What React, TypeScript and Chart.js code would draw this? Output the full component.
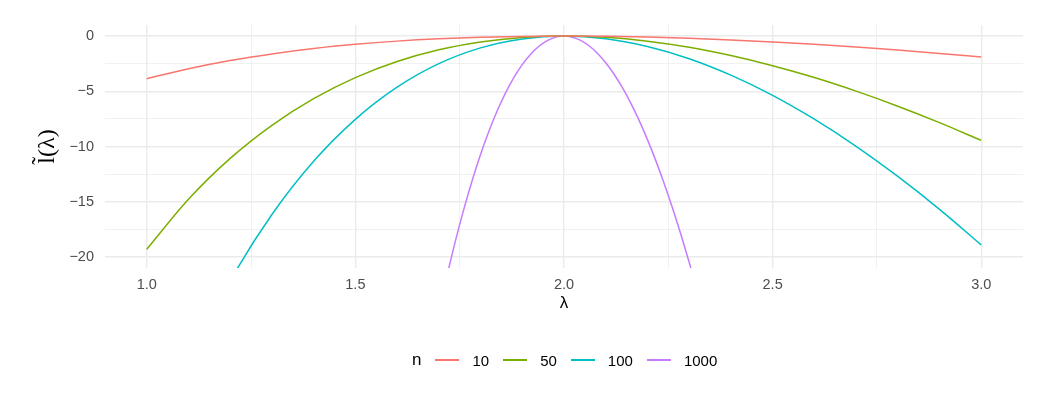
import React, { useEffect, useRef } from "react";
import { Chart, registerables } from "chart.js";
Chart.register(...registerables);

// λ grid for the three smaller n
const lambdaCoarse = [1.0, 1.1, 1.2, 1.3, 1.4, 1.5, 1.6, 1.7, 1.8, 1.9, 2.0, 2.1, 2.2, 2.3, 2.4, 2.5, 2.6, 2.7, 2.8, 2.9, 3.0];
const n10 = [-3.86, -2.96, -2.22, -1.62, -1.13, -0.75, -0.46, -0.25, -0.11, -0.03, 0, -0.02, -0.09, -0.2, -0.35, -0.54, -0.75, -1.0, -1.27, -1.57, -1.89];
const n50 = [-19.31, -14.78, -11.08, -8.08, -5.67, -3.77, -2.31, -1.25, -0.54, -0.13, 0, -0.12, -0.47, -1.02, -1.77, -2.69, -3.76, -4.99, -6.35, -7.84, -9.45];
const n100 = [-38.63, -29.57, -22.17, -16.16, -11.34, -7.54, -4.63, -2.5, -1.07, -0.26, 0, -0.24, -0.94, -2.05, -3.54, -5.37, -7.53, -9.98, -12.71, -15.69, -18.91];

// finer λ grid for n = 1000
const lambdaFine = [1.7, 1.72, 1.74, 1.76, 1.78, 1.8, 1.82, 1.84, 1.86, 1.88, 1.9, 1.92, 1.94, 1.96, 1.98, 2.0, 2.02, 2.04, 2.06, 2.08, 2.1, 2.12, 2.14, 2.16, 2.18, 2.2, 2.22, 2.24, 2.26, 2.28, 2.3, 2.32];
const n1000 = [-25.04, -21.65, -18.52, -15.67, -13.07, -10.72, -8.62, -6.76, -5.14, -3.75, -2.59, -1.64, -0.92, -0.41, -0.1, 0, -0.1, -0.39, -0.88, -1.56, -2.42, -3.46, -4.68, -6.08, -7.64, -9.38, -11.28, -13.34, -15.56, -17.94, -20.48, -23.16];

const seriesNames = ["10", "50", "100", "1000"];
const seriesColors = ["#F8766D", "#7CAE00", "#00BFC4", "#C77CFF"];

const xMajorTicks = [1.0, 1.5, 2.0, 2.5, 3.0];
const xMinorTicks = [1.25, 1.75, 2.25, 2.75];
const yMajorTicks = [-20, -15, -10, -5, 0];
const yMinorTicks = [-17.5, -12.5, -7.5, -2.5];

const toPoints = (xs: number[], ys: number[]) => xs.map((x, i) => ({ x, y: ys[i] }));

export default function App() {
  const ref = useRef<HTMLCanvasElement | null>(null);

  useEffect(() => {
    if (!ref.current) return;
    const seriesData = [
      toPoints(lambdaCoarse, n10),
      toPoints(lambdaCoarse, n50),
      toPoints(lambdaCoarse, n100),
      toPoints(lambdaFine, n1000),
    ];
    const isMajor = (v: number, majors: number[]) => majors.some((m) => Math.abs(m - v) < 1e-9);
    const tickFont = { family: "'Liberation Sans', Arial, sans-serif", size: 14.5 };
    const chart = new Chart(ref.current, {
      type: "line",
      data: {
        datasets: seriesData.map((d, i) => ({
          label: seriesNames[i],
          data: d,
          borderColor: seriesColors[i],
          backgroundColor: seriesColors[i],
          borderWidth: 1.5,
          pointRadius: 0,
          fill: false,
          cubicInterpolationMode: "monotone" as const,
        })),
      },
      options: {
        responsive: false,
        animation: false,
        layout: { padding: { top: 25, right: 37, left: 0, bottom: 78 } },
        plugins: { legend: { display: false }, tooltip: { enabled: false } },
        scales: {
          x: {
            type: "linear",
            min: 0.9,
            max: 3.1,
            border: { display: false },
            afterFit: (s: any) => {
              s.height = 50;
            },
            afterBuildTicks: (s: any) => {
              s.ticks = [...xMajorTicks, ...xMinorTicks].sort((a, b) => a - b).map((v) => ({ value: v }));
            },
            grid: {
              drawTicks: false,
              color: "#EBEBEB",
              lineWidth: (c: any) => (c.tick && isMajor(c.tick.value, xMajorTicks) ? 1.4 : 0.7),
            },
            ticks: {
              autoSkip: false,
              maxRotation: 0,
              padding: 8,
              color: "#4D4D4D",
              font: tickFont,
              callback: (v: any) => (isMajor(Number(v), xMajorTicks) ? Number(v).toFixed(1) : ""),
            },
            title: {
              display: true,
              text: "λ",
              color: "#000",
              font: { family: "'Liberation Sans', Arial, sans-serif", size: 17 },
              padding: { top: 0, bottom: 4 },
            },
          },
          y: {
            type: "linear",
            min: -21,
            max: 1,
            border: { display: false },
            afterFit: (s: any) => {
              s.width = 105;
            },
            afterBuildTicks: (s: any) => {
              s.ticks = [...yMajorTicks, ...yMinorTicks].sort((a, b) => a - b).map((v) => ({ value: v }));
            },
            grid: {
              drawTicks: false,
              color: "#EBEBEB",
              lineWidth: (c: any) => (c.tick && isMajor(c.tick.value, yMajorTicks) ? 1.4 : 0.7),
            },
            ticks: {
              autoSkip: false,
              padding: 11,
              color: "#4D4D4D",
              font: tickFont,
              callback: (v: any) => (isMajor(Number(v), yMajorTicks) ? String(v).replace("-", "\u2212") : ""),
            },
            title: {
              display: true,
              text: "l\u0303(λ)",
              color: "#000",
              font: { family: "'Liberation Serif', 'DejaVu Serif', serif", size: 24 },
              padding: { top: 33, bottom: 0 },
            },
          },
        },
      },
    });
    return () => chart.destroy();
  }, []);

  return (
    <div style={{ position: "fixed", left: 0, top: 0, width: 1060, height: 396, background: "#fff" }}>
      <canvas ref={ref} width={1060} height={396} style={{ display: "block" }} />
      <div
        style={{
          position: "absolute",
          left: 412,
          top: 348,
          height: 24,
          display: "flex",
          alignItems: "center",
          fontFamily: "'Liberation Sans', Arial, sans-serif",
          color: "#000",
        }}
      >
        <span style={{ fontSize: 17, marginRight: 14 }}>n</span>
        {seriesNames.map((name, i) => (
          <span key={name} style={{ display: "flex", alignItems: "center", marginRight: 14 }}>
            <span style={{ display: "inline-block", width: 24, height: 2, background: seriesColors[i], marginRight: 13 }} />
            <span style={{ fontSize: 15 }}>{name}</span>
          </span>
        ))}
      </div>
    </div>
  );
}
